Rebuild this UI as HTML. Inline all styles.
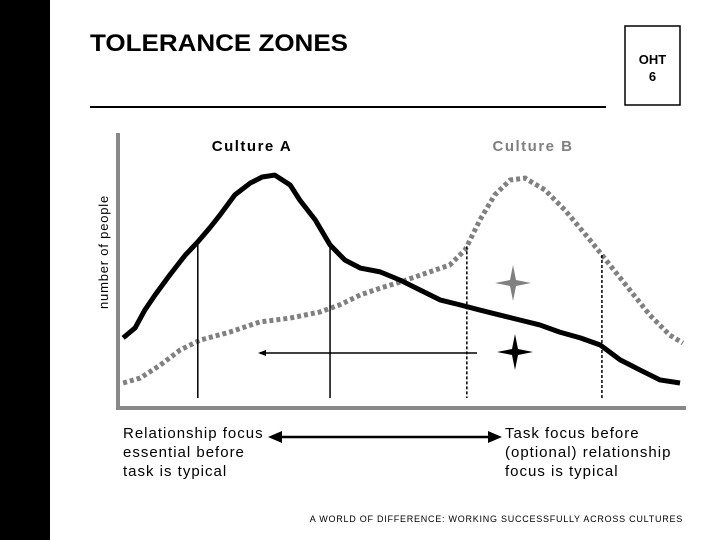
<!DOCTYPE html>
<html><head><meta charset="utf-8"><style>
body{margin:0;width:720px;height:540px;background:#fff;overflow:hidden;font-family:"Liberation Sans",sans-serif}
svg{display:block}
</style></head><body>
<svg width="720" height="540">
<rect x="0" y="0" width="50" height="540" fill="#000"/>
<text x="90" y="51" font-size="24" font-weight="bold" textLength="258" lengthAdjust="spacingAndGlyphs" font-family="Liberation Sans">TOLERANCE ZONES</text>
<line x1="90" y1="107" x2="606" y2="107" stroke="#000" stroke-width="2"/>
<rect x="625" y="26" width="55" height="79" fill="none" stroke="#000" stroke-width="1.5"/>
<text x="652.5" y="64" font-size="13" font-weight="bold" text-anchor="middle">OHT</text>
<text x="652.5" y="81" font-size="13" font-weight="bold" text-anchor="middle">6</text>
<text x="252" y="151" font-size="15" font-weight="bold" letter-spacing="1.5" text-anchor="middle">Culture A</text>
<text x="533" y="151" font-size="15" font-weight="bold" letter-spacing="1.5" fill="#808080" text-anchor="middle">Culture B</text>
<text transform="translate(108,252) rotate(-90)" font-size="13" letter-spacing="0.8" text-anchor="middle">number of people</text>
<g id="plot"></g>
<line x1="260" y1="353" x2="477" y2="353" stroke="#000" stroke-width="1.5"/>
<polygon points="258,353 266,350 266,356" fill="#000"/>
<path d="M513,265 L516,280 L531,283 L516,286 L513,301 L510,286 L495,283 L510,280 Z" fill="#808080"/>
<path d="M515,334 L518,349 L533,352 L518,355 L515,370 L512,355 L497,352 L512,349 Z" fill="#000"/>
<line x1="278" y1="437" x2="492" y2="437" stroke="#000" stroke-width="2.5"/>
<polygon points="268,437 282,431 282,443" fill="#000"/>
<polygon points="502,437 488,431 488,443" fill="#000"/>
<g font-size="15" letter-spacing="1">
<text x="123" y="438">Relationship focus</text><text x="123" y="457">essential before</text><text x="123" y="476">task is typical</text></g>
<g font-size="15" letter-spacing="1">
<text x="505" y="438">Task focus before</text><text x="505" y="457">(optional) relationship</text><text x="505" y="476">focus is typical</text></g>
<text x="683" y="522" font-size="9" letter-spacing="0.75" text-anchor="end">A WORLD OF DIFFERENCE: WORKING SUCCESSFULLY ACROSS CULTURES</text>
</svg>
<script>
const aX=[0.9,3,4.7,6.5,9.1,11.8,14,16.1,17.9,20.5,23.2,25.3,27.5,30.2,31.9,34.6,37.2,39.8,42.5,46,49.5,53,56.5,60,63.5,67,70.5,74,77.5,81.1,84.6,88.1,91.6,95.1,98.6];
const aY=[25.5,29.1,35.6,41.1,48.4,55.6,60.4,65.5,70.2,77.5,81.8,84,84.7,81.1,75.6,68.4,59.3,53.8,50.9,49.5,46.5,42.9,39.3,37.5,35.6,33.8,32,30.2,27.6,25.5,22.9,17.5,13.8,10.2,9.1];
const bX=[0.9,3.9,7.4,10.9,14.4,19.6,24.9,30.2,35.4,38.9,42.5,46,49.5,54.7,58.2,60.9,63.5,66.1,68.8,71.4,74.9,78.4,82.8,86.3,89.8,93.3,96.8,99.1];
const bY=[9.1,10.9,15.6,21.1,24.7,27.6,31.3,32.7,34.9,37.5,41.1,43.6,45.8,49.5,52,57.5,68.4,77.5,82.9,83.6,79.3,72,61.1,52,42.9,33.8,26.5,23.6];
const solidMarkers=[14,37.2];
const dottedMarkers=[61.2,84.9];
const sx=v=>118+v*5.7, sy=v=>408-v*2.75;
const ns='http://www.w3.org/2000/svg';
const g=document.getElementById('plot');
function mk(t,a){const e=document.createElementNS(ns,t);for(const k in a)e.setAttribute(k,a[k]);g.appendChild(e);return e;}
function interp(xs,ys,x){for(let i=1;i<xs.length;i++){if(x<=xs[i]){const t=(x-xs[i-1])/(xs[i]-xs[i-1]);return ys[i-1]+t*(ys[i]-ys[i-1]);}}return ys[ys.length-1];}
let ax=mk('line',{x1:118,y1:133,x2:118,y2:410,stroke:'#888','stroke-width':4});


let xx=mk('line',{x1:116,y1:408,x2:686,y2:408,stroke:'#888','stroke-width':4});


const pb=mk('path',{d:'M'+bX.map((x,i)=>sx(x)+','+sy(bY[i])).join(' L'),fill:'none',stroke:'#808080','stroke-width':5,'stroke-dasharray':'4 3'});


solidMarkers.forEach(m=>{const l=mk('line',{x1:sx(m),y1:sy(interp(aX,aY,m)),x2:sx(m),y2:398,stroke:'#000','stroke-width':1.5});

});
dottedMarkers.forEach(m=>{const l=mk('line',{x1:sx(m),y1:sy(interp(bX,bY,m)),x2:sx(m),y2:398,stroke:'#000','stroke-width':1.5,'stroke-dasharray':'3 2'});

});
const pa=mk('path',{d:'M'+aX.map((x,i)=>sx(x)+','+sy(aY[i])).join(' L'),fill:'none',stroke:'#000','stroke-width':5,'stroke-linejoin':'round'});


</script>
</body></html>
